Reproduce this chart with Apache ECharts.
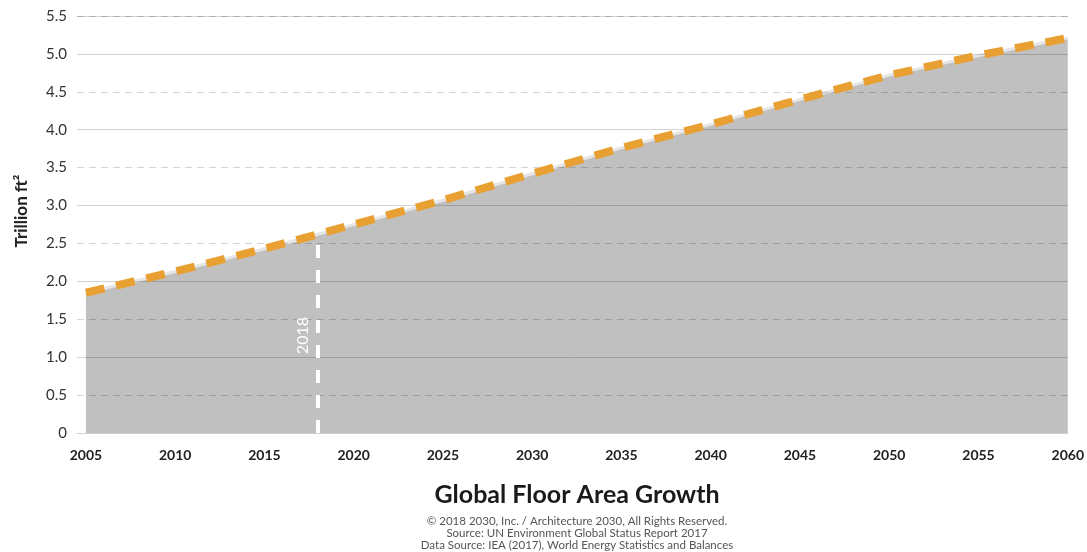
<!DOCTYPE html>
<html>
<head>
<meta charset="utf-8">
<script src="https://cdn.jsdelivr.net/npm/echarts@6/dist/echarts.min.js"></script>
<style>
html,body{margin:0;padding:0;background:#fff;}
#c{width:1087px;height:552px;}
</style>
</head>
<body>
<div id="c"></div>
<script>
var years = [2005, 2010, 2015, 2020, 2025, 2030, 2035, 2040, 2045, 2050, 2055, 2060];
var floorArea = [1.85, 2.13, 2.43, 2.75, 3.07, 3.42, 3.76, 4.07, 4.40, 4.72, 4.98, 5.21];
var xTickLabels = [2005, 2010, 2015, 2020, 2025, 2030, 2035, 2040, 2045, 2050, 2055, 2060];
var markerYear = 2018;
var markerTop = 2.57;
var titleText = 'Global Floor Area Growth';
var creditLines = [
  '\u00a9 2018 2030, Inc. / Architecture 2030, All Rights Reserved.',
  'Source: UN Environment Global Status Report 2017',
  'Data Source: IEA (2017), World Energy Statistics and Balances'
];
var yName = 'Trillion ft\u00b2';

var pts = years.map(function (y, i) { return [y, floorArea[i]]; });
var FONT = 'Lato, "Open Sans", sans-serif';
var gridCol = 'rgba(0,0,0,0.17)';

var chart = echarts.init(document.getElementById('c'));
chart.setOption({
  animation: false,
  backgroundColor: '#fff',
  grid: { left: 77, right: 19, top: 16, bottom: 119 },
  xAxis: {
    type: 'value', min: 2004.5, max: 2060,
    axisLine: { show: true, lineStyle: { color: '#d0d0d0', width: 1 } },
    axisTick: { show: false },
    splitLine: { show: false },
    axisLabel: {
      customValues: xTickLabels,
      margin: 15, fontSize: 14, fontWeight: 'bold', color: '#222', fontFamily: FONT,
      formatter: function (v) { return String(v); }
    },
    z: 3
  },
  yAxis: [{
    type: 'value', min: 0, max: 5.5, interval: 0.5,
    axisLine: { show: false }, axisTick: { show: false },
    axisLabel: {
      margin: 10, fontSize: 15, color: '#333', fontFamily: FONT,
      formatter: function (v) { return v === 0 ? '0' : v.toFixed(1); }
    },
    splitLine: { show: true, lineStyle: { color: ['rgba(0,0,0,0)', gridCol], type: [7, 5], width: 1 } },
    z: 3
  }, {
    type: 'value', min: 0, max: 5.5, interval: 1, position: 'left',
    axisLine: { show: false }, axisTick: { show: false }, axisLabel: { show: false },
    splitLine: { show: true, lineStyle: { color: gridCol, type: 'solid', width: 1 } },
    z: 3
  }],
  series: [{
    type: 'line', data: pts, yAxisIndex: 0, showSymbol: false, symbol: 'none',
    lineStyle: { color: '#e6e6e6', width: 3 },
    areaStyle: { color: '#c0c0c0', opacity: 1 },
    z: 1
  }, {
    type: 'line', data: pts, yAxisIndex: 0, showSymbol: false, symbol: 'none',
    lineStyle: { color: '#E9A032', width: 8, type: [19, 12], cap: 'butt' },
    z: 10,
    markLine: {
      silent: true, symbol: ['none', 'none'],
      lineStyle: { color: '#ffffff', width: 4, type: [13, 12] },
      label: {
        show: true, position: 'insideMiddleTop', formatter: String(markerYear),
        color: '#ffffff', fontSize: 16, fontFamily: FONT, distance: 7
      },
      data: [[{ coord: [markerYear, 0] }, { coord: [markerYear, markerTop] }]]
    }
  }],
  graphic: [{
    type: 'text', x: 22, y: 211, rotation: Math.PI / 2,
    style: { text: yName, font: 'bold 17px ' + FONT, fill: '#222', textAlign: 'center', textVerticalAlign: 'middle' }
  }, {
    type: 'text', x: 577, y: 495,
    style: { text: titleText, font: 'bold 25px ' + FONT, fill: '#1a1a1a', textAlign: 'center', textVerticalAlign: 'middle' }
  }, {
    type: 'text', x: 577, y: 521,
    style: { text: creditLines[0], font: '11.5px ' + FONT, fill: '#555', textAlign: 'center', textVerticalAlign: 'middle' }
  }, {
    type: 'text', x: 577, y: 533,
    style: { text: creditLines[1], font: '11.5px ' + FONT, fill: '#555', textAlign: 'center', textVerticalAlign: 'middle' }
  }, {
    type: 'text', x: 577, y: 545,
    style: { text: creditLines[2], font: '11.5px ' + FONT, fill: '#555', textAlign: 'center', textVerticalAlign: 'middle' }
  }]
});
</script>
</body>
</html>
